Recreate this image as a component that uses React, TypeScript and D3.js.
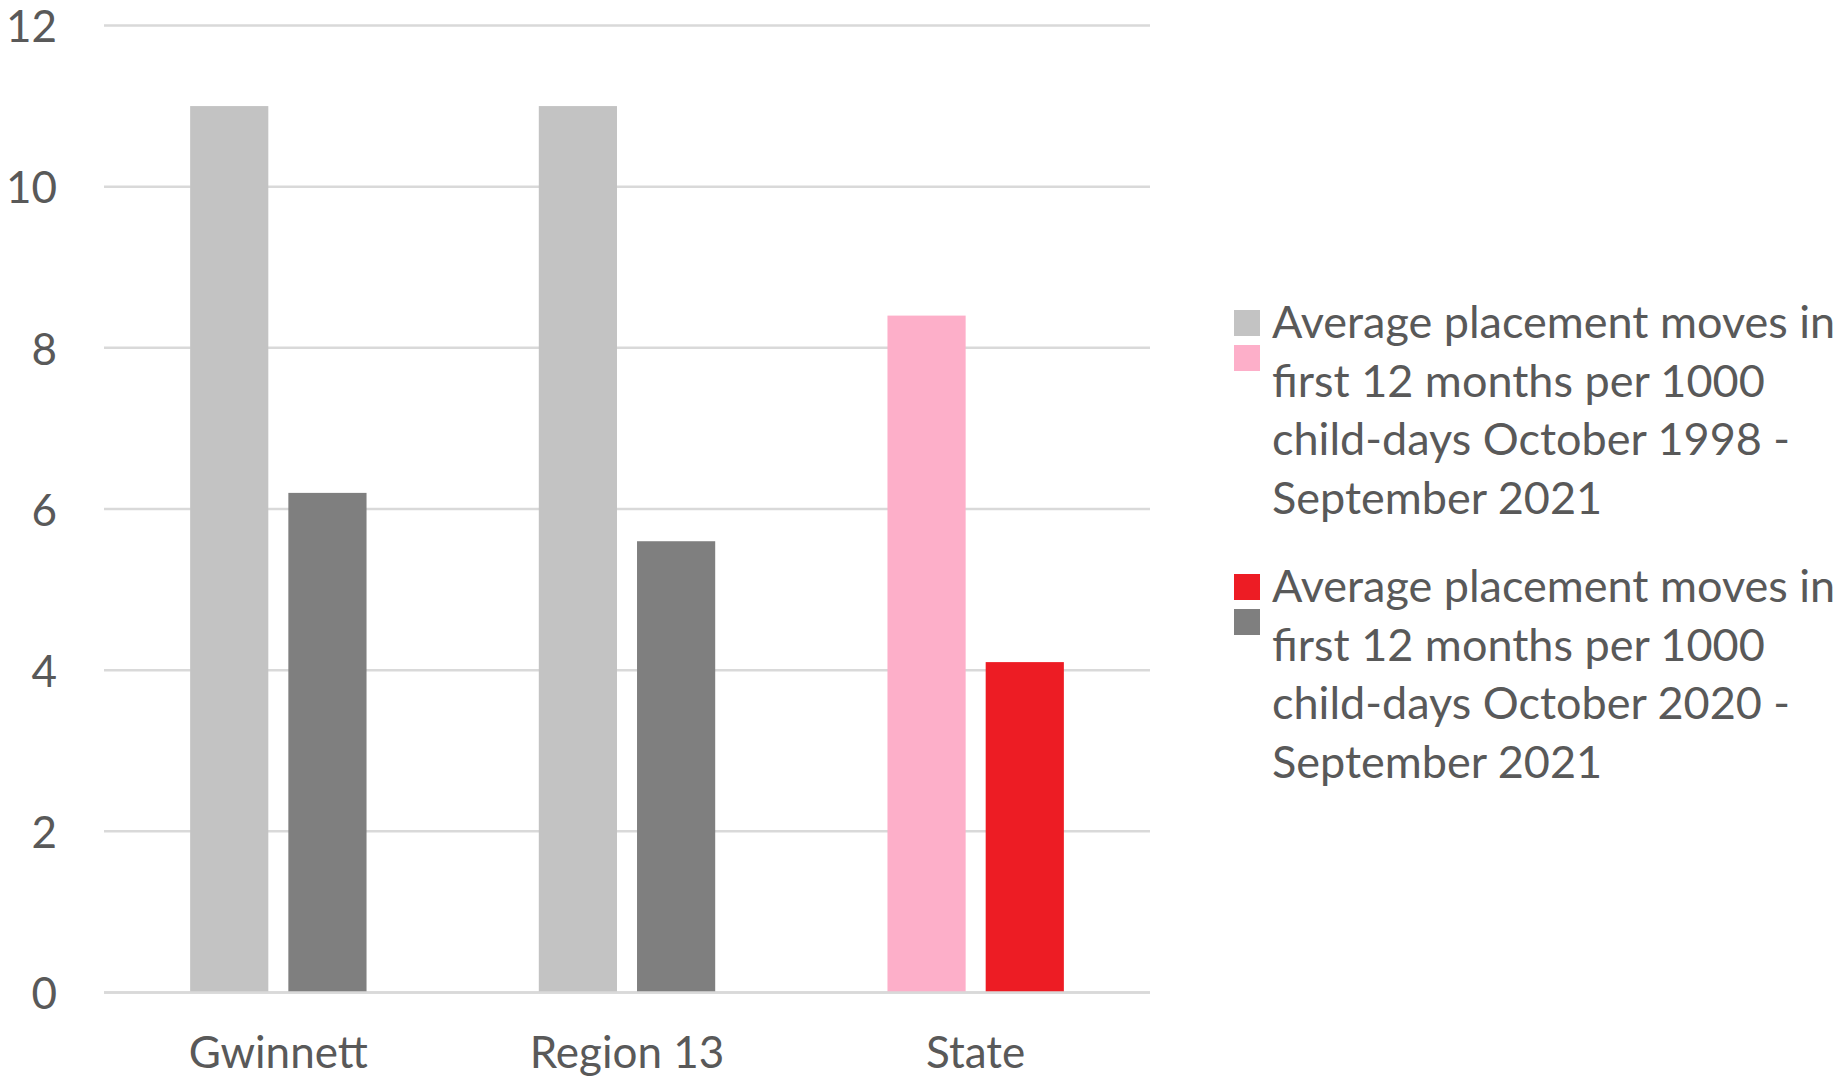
import { useEffect } from 'react'
import * as d3 from 'd3'

const categories = ['Gwinnett', 'Region 13', 'State']
const seriesNames = [
  'Average placement moves in first 12 months per 1000 child-days October 1998 - September 2021',
  'Average placement moves in first 12 months per 1000 child-days October 2020 - September 2021',
]
const longTermValues = [11, 11, 8.4]
const recentValues = [6.2, 5.6, 4.1]
const yTicks = [0, 2, 4, 6, 8, 10, 12]
const legendLines = [
  ['Average placement moves in', 'first 12 months per 1000', 'child-days October 1998 -', 'September 2021'],
  ['Average placement moves in', 'first 12 months per 1000', 'child-days October 2020 -', 'September 2021'],
]

const W = 1847
const H = 1076
const PLOT = { left: 104, right: 1150, top: 25.5, bottom: 992.5 }
const LIGHT_GRAY = '#C3C3C3'
const DARK_GRAY = '#7F7F7F'
const PINK = '#FDAFC9'
const RED = '#ED1C24'
const GRID = '#D9D9D9'
const TEXT = '#595959'
const FONT = "Lato, 'Open Sans', sans-serif"
const FS = 44
const LEGEND_FS = 45

export default function App() {
  useEffect(() => {
    document.body.style.margin = '0'
  }, [])

  const x0 = d3.scaleBand().domain(categories).range([PLOT.left, PLOT.right]).paddingInner(0).paddingOuter(0)
  const x1 = d3
    .scaleBand()
    .domain(['a', 'b'])
    .range([0, x0.bandwidth()])
    .paddingInner(0.204)
    .paddingOuter(0.877)
  const y = d3.scaleLinear().domain([0, 12]).range([PLOT.bottom, PLOT.top])

  // State uses its own colours, other areas are grey
  const colorA = (c: string) => (c === 'State' ? PINK : LIGHT_GRAY)
  const colorB = (c: string) => (c === 'State' ? RED : DARK_GRAY)

  const legendX = 1234
  const legendTextX = 1272
  const lineH = 58.5
  const legendTop = [338, 602]
  const swatches = [
    [LIGHT_GRAY, PINK],
    [RED, DARK_GRAY],
  ]

  return (
    <svg width={W} height={H} style={{ display: 'block', background: '#fff' }} fontFamily={FONT}>
      <g>
        {yTicks.map((t) => (
          <line key={t} x1={PLOT.left} x2={PLOT.right} y1={y(t)} y2={y(t)} stroke={GRID} strokeWidth={2.5} />
        ))}
        {yTicks.map((t) => (
          <text key={'l' + t} x={57} y={y(t)} dy="0.38em" textAnchor="end" fontSize={FS} fill={TEXT}>
            {t}
          </text>
        ))}
      </g>
      <g>
        {categories.map((c, i) => (
          <g key={c} transform={`translate(${x0(c)},0)`}>
            <rect
              x={x1('a')}
              width={x1.bandwidth()}
              y={y(longTermValues[i])}
              height={y(0) - y(longTermValues[i])}
              fill={colorA(c)}
            >
              <title>{seriesNames[0]}</title>
            </rect>
            <rect
              x={x1('b')}
              width={x1.bandwidth()}
              y={y(recentValues[i])}
              height={y(0) - y(recentValues[i])}
              fill={colorB(c)}
            >
              <title>{seriesNames[1]}</title>
            </rect>
          </g>
        ))}
      </g>
      <line x1={PLOT.left} x2={PLOT.right} y1={y(0)} y2={y(0)} stroke={GRID} strokeWidth={2.5} />
      <g>
        {categories.map((c) => (
          <text key={c} x={x0(c)! + x0.bandwidth() / 2} y={1068} textAnchor="middle" fontSize={FS} fill={TEXT}>
            {c}
          </text>
        ))}
      </g>
      <g>
        {legendLines.map((lines, k) => (
          <g key={k}>
            <rect x={legendX} y={legendTop[k] - 28} width={26} height={26} fill={swatches[k][0]} />
            <rect x={legendX} y={legendTop[k] + 7} width={26} height={26} fill={swatches[k][1]} />
            {lines.map((ln, j) => (
              <text key={j} x={legendTextX} y={legendTop[k] + j * lineH} fontSize={LEGEND_FS} fill={TEXT}>
                {ln}
              </text>
            ))}
          </g>
        ))}
      </g>
    </svg>
  )
}
